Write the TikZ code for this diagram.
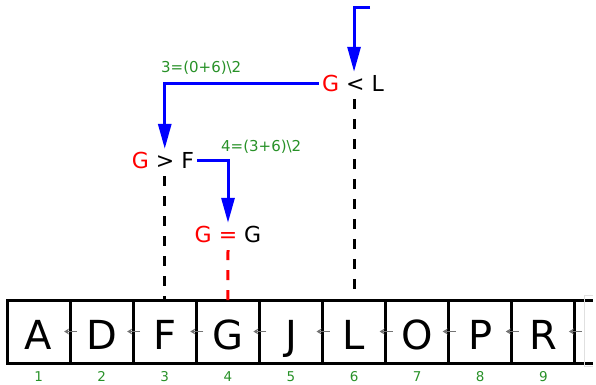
\documentclass[tikz,border=0pt]{standalone}
\usepackage{fontspec}
\setmainfont{DejaVu Sans}
\usetikzlibrary{arrows.meta}
\definecolor{lblgreen}{RGB}{40,145,40}
\definecolor{flowblue}{RGB}{0,0,255}
\tikzset{
  cell/.style={draw, line width=3pt, minimum width=63.1pt, minimum height=63pt,
    inner sep=0pt, outer sep=0pt, text height=35pt, text depth=0pt,
    font=\fontsize{40}{40}\selectfont},
  cmp/.style={inner sep=3pt, text height=16pt, text depth=0pt,
    font=\fontsize{22}{22}\selectfont},
  num/.style={text=lblgreen, font=\fontsize{13.5}{13.5}\selectfont, inner sep=0pt},
  lbl/.style={text=lblgreen, font=\fontsize{15}{15}\selectfont, inner sep=0pt},
  flow/.style={draw=flowblue, line width=3pt, -{Triangle[length=25pt,width=13pt]}},
  probe/.style={line width=3pt, dash pattern=on 10pt off 10pt},
  marker/.style={draw=black!55, line width=1pt, -{Stealth[length=5pt,width=6pt]}}
}
\begin{document}
\begin{tikzpicture}[x=1pt,y=-1pt]
\useasboundingbox (0,0) rectangle (596,384);
% array cells
\foreach \l [count=\i] in {A,D,F,G,J,L,O,P,R}
  \node[cell] (c\i) at ({7+63.1*(\i-0.5)},331.5) {\l};
% partial continuation
\coordinate (ctop) at (593,300);
\coordinate (cbot) at (593,363);
\draw[line width=3pt] (c9.north east) -- (ctop);
\draw[line width=3pt] (c9.south east) -- (cbot);
\draw[black!12, line width=0.8pt] (593,295) -- (584,295) -- (584,366) -- (593,366);
% link markers
\foreach \i in {1,...,9}
  \draw[marker] ([xshift=7pt]c\i.east) -- ([xshift=-6pt]c\i.east);
% indices
\foreach \i in {1,...,9}
  \node[num] (n\i) at ({7+63.1*(\i-0.5)},376.5) {\i};
% comparison nodes
\node[cmp] (nL) at (353,83) {\textcolor{red}{G} < L};
\node[cmp] (nF) at (163,160) {\textcolor{red}{G} > F};
\node[cmp] (nG) at (228,234) {\textcolor{red}{G = }G};
% labels
\node[lbl, anchor=west] (l1) at (161,68) {3=(0+6)\textbackslash 2};
\node[lbl, anchor=west] (l2) at (221,147) {4=(3+6)\textbackslash 2};
% flow arrows
\coordinate (start) at (370,7.5);
\draw[flow] (start) -| (c6 |- nL.north);
\draw[flow] (nL.west) -| (c3 |- nF.north);
\draw[flow] (nF.east) -| (nG.north);
% probes
\draw[probe] (c6 |- nL.south) ++(0,5) -- (c6.north);
\draw[probe] (c3 |- nF.south) ++(0,5) -- (c3.north);
\draw[probe, draw=red] (nG.south) ++(0,5) -- (c4.north);
\end{tikzpicture}
\end{document}
